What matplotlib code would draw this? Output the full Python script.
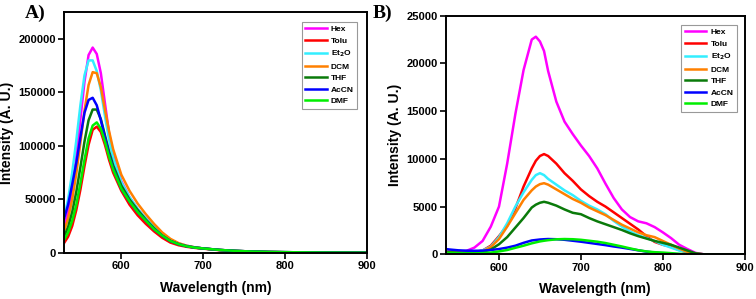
import numpy as np
import matplotlib
matplotlib.use("Agg")
import matplotlib.pyplot as plt

plt.rcParams['font.family'] = ['Liberation Sans', 'DejaVu Sans']
plt.rcParams['font.weight'] = 'bold'

solvents = ["Hex", "Tolu", "Et$_2$O", "DCM", "THF", "AcCN", "DMF"]
colors = ["#ff00ff", "#ff0000", "#33eeff", "#ff8000", "#0a7a0a", "#0000ff", "#00ee00"]

# panel A: wavelength (nm) and intensity (x1000)
wl_a = [530, 535, 540, 545, 550, 555, 560, 565, 570, 575, 580, 585, 590, 600, 610,
        620, 630, 640, 650, 660, 670, 680, 690, 700, 720, 740, 760, 780, 800, 850, 900]
hex_a = [25, 38, 60, 90, 125, 160, 185, 192, 186, 168, 140, 112, 92, 67, 52,
         41, 32, 24, 17, 12, 8.5, 6.5, 5, 4, 2.6, 1.7, 1.1, 0.7, 0.5, 0.15, 0]
tolu_a = [9, 15, 25, 40, 59, 81, 101, 115, 118, 113, 101, 87, 75, 58, 45,
          35, 27, 20, 14, 9.5, 7, 5.5, 4.5, 3.8, 2.4, 1.5, 1.0, 0.6, 0.4, 0.1, 0]
et2o_a = [33, 50, 75, 105, 138, 166, 180, 180, 170, 152, 128, 106, 89, 66, 52,
          41, 32, 24, 17, 12, 8.5, 6.5, 5, 4, 2.6, 1.7, 1.1, 0.7, 0.5, 0.15, 0]
dcm_a = [20, 32, 50, 74, 103, 133, 157, 169, 168, 155, 134, 114, 97, 73, 58,
         46, 36, 27, 19, 13, 9, 6.5, 5, 4, 2.6, 1.7, 1.1, 0.7, 0.5, 0.15, 0]
thf_a = [15, 24, 38, 57, 80, 104, 124, 134, 134, 125, 110, 95, 82, 63, 50,
         40, 31, 23, 16, 11, 8, 6, 4.8, 4, 2.6, 1.7, 1.1, 0.7, 0.5, 0.15, 0]
accn_a = [32, 45, 64, 84, 108, 131, 143, 145, 138, 124, 108, 92, 79, 60, 48,
          38, 30, 22, 16, 11, 8, 6, 4.8, 4, 2.6, 1.7, 1.1, 0.7, 0.5, 0.15, 0]
dmf_a = [12, 19, 30, 45, 65, 87, 107, 119, 122, 116, 104, 90, 78, 60, 48,
         38, 30, 22, 16, 11, 8, 6, 4.8, 4, 2.6, 1.7, 1.1, 0.7, 0.5, 0.15, 0]

# panel B
wl_b = [535, 540, 550, 560, 570, 580, 590, 600, 610, 620, 630, 640, 645, 650, 655, 660,
        670, 680, 690, 700, 710, 720, 730, 740, 750, 760, 770, 780, 790, 800, 810, 820,
        830, 840, 850, 900]
hex_b = [450, 400, 280, 350, 700, 1400, 2900, 5000, 9500, 14700, 19300, 22500, 22800, 22300, 21300, 19200,
         16000, 13900, 12600, 11400, 10300, 9000, 7400, 5900, 4700, 3900, 3450, 3250, 2850, 2300, 1700, 1000,
         550, 150, 0, 0]
tolu_b = [300, 280, 230, 200, 220, 400, 900, 1900, 3000, 4800, 7100, 9000, 9800, 10300, 10500, 10300,
          9500, 8500, 7700, 6800, 6100, 5500, 5000, 4400, 3800, 3200, 2600, 1900, 1300, 1000, 800, 450,
          200, 50, 0, 0]
et2o_b = [300, 280, 220, 200, 230, 400, 800, 1800, 3250, 5000, 6500, 7800, 8300, 8500, 8300, 7900,
          7300, 6700, 6200, 5600, 5100, 4700, 4200, 3500, 2900, 2400, 2000, 1700, 1400, 1000, 700, 400,
          250, 50, 0, 0]
dcm_b = [300, 280, 220, 200, 200, 300, 750, 1600, 2900, 4300, 5700, 6700, 7100, 7350, 7450, 7300,
         6800, 6300, 5800, 5400, 4900, 4500, 4100, 3600, 3100, 2700, 2300, 2000, 1800, 1400, 1000, 600,
         250, 50, 0, 0]
thf_b = [200, 200, 170, 150, 150, 250, 500, 1050, 1800, 2800, 3800, 4900, 5200, 5400, 5500, 5400,
         5100, 4700, 4350, 4200, 3800, 3450, 3150, 2850, 2550, 2200, 1900, 1650, 1400, 1200, 1000, 700,
         400, 100, 0, 0]
accn_b = [550, 500, 420, 380, 370, 380, 450, 550, 700, 900, 1200, 1450, 1500, 1550, 1580, 1600,
          1580, 1520, 1420, 1320, 1200, 1080, 960, 820, 700, 560, 420, 280, 180, 100, 40, 10,
          0, 0, 0, 0]
dmf_b = [150, 150, 120, 100, 100, 120, 180, 300, 450, 680, 900, 1150, 1250, 1350, 1420, 1480,
         1570, 1600, 1580, 1520, 1420, 1320, 1180, 1000, 820, 620, 430, 300, 220, 180, 120, 50,
         10, 0, 0, 0]

series_a = [hex_a, tolu_a, et2o_a, dcm_a, thf_a, accn_a, dmf_a]
series_b = [hex_b, tolu_b, et2o_b, dcm_b, thf_b, accn_b, dmf_b]

fig = plt.figure(figsize=(7.56, 2.99), dpi=100)
ax_a = fig.add_axes([0.0847, 0.1548, 0.4004, 0.804])
ax_b = fig.add_axes([0.5896, 0.1495, 0.3955, 0.798])

for i in range(len(solvents)):
    ax_a.plot(wl_a, np.array(series_a[i]) * 1000, color=colors[i], lw=1.8, label=solvents[i])
    ax_b.plot(wl_b, series_b[i], color=colors[i], lw=1.8, label=solvents[i])

ax_a.set(xlim=(530, 900), ylim=(0, 225000))
ax_a.set_xticks([600, 700, 800, 900])
ax_a.set_yticks([0, 50000, 100000, 150000, 200000])
ax_b.set(xlim=(535, 900), ylim=(0, 25000))
ax_b.set_xticks([600, 700, 800, 900])
ax_b.set_yticks([0, 5000, 10000, 15000, 20000, 25000])

for ax, anchor in [(ax_a, (0.968, 0.96)), (ax_b, (0.974, 0.961))]:
    for s in ax.spines.values():
        s.set_linewidth(1.4)
    ax.tick_params(direction='out', length=4, width=1.2, labelsize=8, pad=2)
    ax.set_xlabel("Wavelength (nm)", fontsize=10, fontweight='bold', labelpad=7)
    ax.set_ylabel("Intensity (A. U.)", fontsize=10, fontweight='bold', labelpad=3)
    leg = ax.legend(loc='upper right', bbox_to_anchor=anchor, borderaxespad=0,
                    fontsize=6, frameon=True, fancybox=False, edgecolor='#999999',
                    framealpha=1, handlelength=2.6, handletextpad=0.5,
                    labelspacing=0.45, borderpad=0.4)
    leg.get_frame().set_linewidth(0.8)
    for line in leg.get_lines():
        line.set_linewidth(1.8)

fig.text(25 / 756, 1 - 13 / 299, "A)", fontsize=14, fontweight='bold',
         family='Liberation Serif', va='center', ha='left')
fig.text(373 / 756, 1 - 13 / 299, "B)", fontsize=14, fontweight='bold',
         family='Liberation Serif', va='center', ha='left')

fig.savefig("out.png", dpi=100)
